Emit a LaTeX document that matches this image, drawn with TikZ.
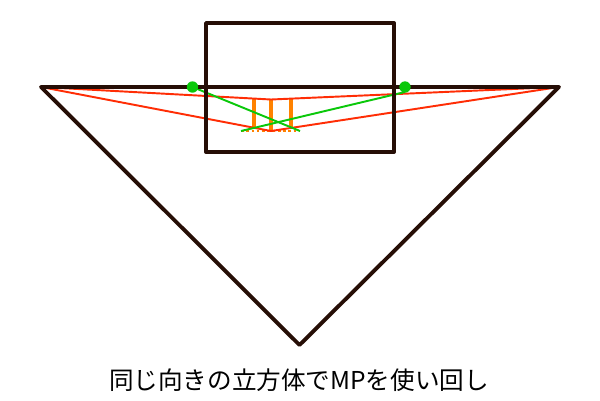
\documentclass[tikz,border=0pt]{standalone}
\usepackage{fontspec}
\setmainfont{Noto Sans CJK JP}
\usetikzlibrary{calc}
\definecolor{framebrown}{RGB}{38,14,6}
\definecolor{rayred}{RGB}{255,45,5}
\definecolor{raygreen}{RGB}{10,200,10}
\definecolor{barorange}{RGB}{255,130,0}
\tikzset{
	frame/.style={draw=framebrown, line width=2.2pt, line join=round, line cap=round},
	redray/.style={draw=rayred, line width=1.1pt, line join=round},
	greenray/.style={draw=raygreen, line width=1.1pt},
	orangebar/.style={draw=barorange, line width=2.3pt},
}

\begin{document}
\begin{tikzpicture}[x=0.02cm, y=-0.02cm]
	\useasboundingbox (0,0) rectangle (600,400);
	
	% vanishing points and apex of the big triangle
	\coordinate (L) at (41,87);
	\coordinate (R) at (559,87);
	\coordinate (apex) at (299.5,345);
	\coordinate (ml) at (192.5,87);
	\coordinate (mr) at (405,87);
	\coordinate (mrend) at (405,92);
	
	% points on the ground edge
	\coordinate (top) at (271,99.5);
	\coordinate (low) at (271,131);
	\coordinate (gl) at (241,131);
	\coordinate (gr) at (300,131);
	
	% dotted base
	\draw[barorange, line width=1.2pt, dash pattern=on 1.5pt off 1.5pt] (gl) -- (gr);
	
	% orange bars
	\draw[orangebar] (254,98.5) -- (254,129);
	\draw[orangebar] (271,99.5) -- (271,131.5);
	\draw[orangebar] (291,98.5) -- (291,128);
	
	% red rays
	\draw[redray] (L) -- (top) -- (R);
	\draw[redray] (L) -- (low) -- (R);
	
	% green rays
	\draw[greenray] (ml) -- (gr);
	\draw[greenray] (mrend) -- (gl);
	
	% frame and triangle
	\draw[frame] (206,23) rectangle (394,152);
	\draw[frame] (L) -- (R) -- (apex) -- cycle;
	
	\fill[raygreen] (ml) circle (5.7);
	\fill[raygreen] (mr) circle (5.7);
	
	\node[font=\fontsize{14pt}{16pt}\selectfont, inner sep=0pt] (caption) at (299,380) {同じ向きの立方体でMPを使い回し};
	
\end{tikzpicture}
\end{document}
